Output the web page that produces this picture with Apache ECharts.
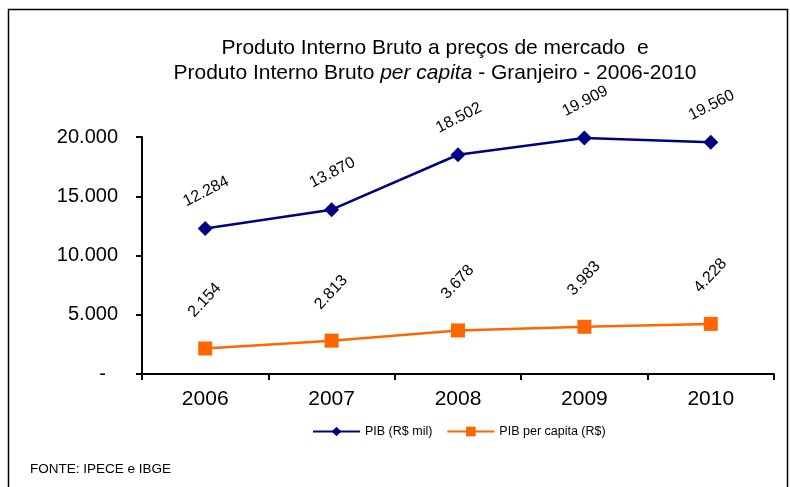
<!DOCTYPE html>
<html><head><meta charset="utf-8">
<script src="https://cdn.jsdelivr.net/npm/echarts@6/dist/echarts.min.js"></script>
<style>html,body{margin:0;padding:0;background:#fff}#c{width:790px;height:487px}</style>
</head><body><div id="c"></div>
<script>
var categories = ['2006', '2007', '2008', '2009', '2010'];
var pibValues = [12284, 13870, 18502, 19909, 19560];
var pibPerCapitaValues = [2154, 2813, 3678, 3983, 4228];
var seriesNames = ['PIB (R$ mil)', 'PIB per capita (R$)'];
var yTicks = [0, 5000, 10000, 15000, 20000];

function fmt(v) {
  if (v === 0) return '-';
  return String(Math.round(v)).replace(/\B(?=(\d{3})+(?!\d))/g, '.');
}

var chart = echarts.init(document.getElementById('c'));
var font = 'Liberation Sans, Arial, sans-serif';
chart.setOption({
  animation: false,
  backgroundColor: '#fff',
  title: {
    text: '{n|Produto Interno Bruto a preços de mercado  e}\n{n|Produto Interno Bruto }{i|per capita}{n| - Granjeiro - 2006-2010}',
    left: 430, textAlign: 'center', top: 31,
    textStyle: {
      fontWeight: 'normal',
      rich: {
        n: {fontFamily: font, fontSize: 21, fontWeight: 'normal', color: '#000', lineHeight: 25},
        i: {fontFamily: font, fontSize: 21, fontWeight: 'normal', color: '#000', fontStyle: 'italic', lineHeight: 25}
      }
    }
  },
  graphic: [{
    type: 'rect', shape: {x: 8.5, y: 9.5, width: 779, height: 495},
    style: {fill: 'none', stroke: '#000', lineWidth: 1.5}, silent: true
  }, {
    type: 'text', left: 30, top: 462,
    style: {text: 'FONTE: IPECE e IBGE', fontFamily: font, fontSize: 13.5, fill: '#000', letterSpacing: -0.2}
  }],
  legend: {
    data: seriesNames, top: 420, left: 307, itemWidth: 47, itemHeight: 12, itemGap: 14,
    textStyle: {fontFamily: font, fontSize: 12.5, color: '#000'}
  },
  grid: {left: 142, right: 16, top: 137, bottom: 113},
  xAxis: {
    type: 'category', data: categories, boundaryGap: true,
    axisLine: {lineStyle: {color: '#000', width: 2}},
    axisTick: {show: true, length: 6, lineStyle: {color: '#000', width: 2}},
    axisLabel: {fontFamily: font, fontSize: 21, color: '#000', margin: 15}
  },
  yAxis: {
    type: 'value', min: 0, max: 20000, interval: 5000,
    splitLine: {show: false},
    axisLine: {show: true, lineStyle: {color: '#000', width: 2}},
    axisTick: {show: true, length: 6, lineStyle: {color: '#000', width: 2}},
    axisLabel: {
      fontFamily: font, fontSize: 20, color: '#000', margin: 24,
      formatter: function (v) { return v === 0 ? '{z|-}' : fmt(v); },
      rich: {z: {fontFamily: font, fontSize: 20, color: '#000', padding: [0, 12, 0, 0]}}
    }
  },
  series: [{
    name: seriesNames[0], type: 'line', data: pibValues,
    symbol: 'diamond', symbolSize: 15,
    lineStyle: {color: '#000080', width: 2.5}, itemStyle: {color: '#000080'},
    label: {show: true, position: 'top', distance: 20, rotate: 27, offset: [5, 0], fontFamily: font, fontSize: 16, color: '#000', formatter: function (p) { return fmt(p.value); }}
  }, {
    name: seriesNames[1], type: 'line', data: pibPerCapitaValues,
    symbol: 'rect', symbolSize: 14,
    lineStyle: {color: '#FF6600', width: 2.5}, itemStyle: {color: '#FF6600'},
    label: {show: true, position: 'top', distance: 30, rotate: 47, offset: [8, 0], fontFamily: font, fontSize: 16, color: '#000', formatter: function (p) { return fmt(p.value); }}
  }]
});
</script></body></html>
